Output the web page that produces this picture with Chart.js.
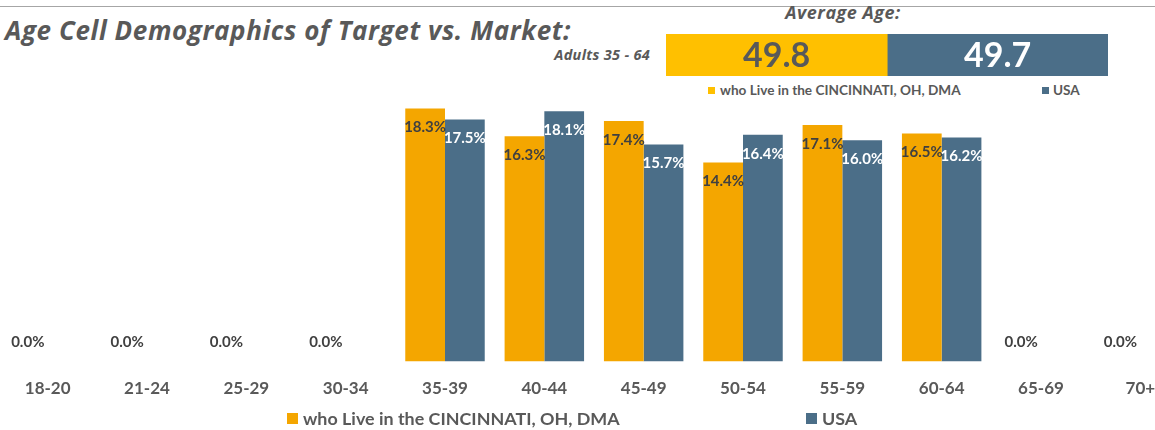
<!DOCTYPE html>
<html>
<head>
<meta charset="utf-8">
<script src="https://cdn.jsdelivr.net/npm/chart.js@4/dist/chart.umd.min.js"></script>
<style>
    body { margin: 0; width: 1155px; height: 430px; overflow: hidden; background: #fff; font-family: Lato, "Open Sans", sans-serif; color: #595959; position: relative; }
    .topLine { position: absolute; left: 0; top: 6px; width: 1155px; height: 1px; background: #a6a6a6; }
    .title { position: absolute; left: 5px; top: 12px; font-family: "Open Sans"; font-size: 26px; font-weight: bold; font-style: italic; white-space: nowrap; letter-spacing: 0.6px; }
    .avgTitle { position: absolute; left: 666px; width: 354px; top: 0px; text-align: center; font-family: "Open Sans"; font-size: 18px; font-weight: bold; font-style: italic; letter-spacing: 0.5px; }
    .adults { position: absolute; left: 450px; width: 200px; top: 45px; text-align: right; font-family: "Open Sans"; font-size: 14.5px; font-weight: bold; font-style: italic; letter-spacing: 0.3px; }
    #avgBox { position: absolute; left: 666px; top: 34px; width: 442px; height: 42px; }
    #mainBox { position: absolute; left: -2px; top: 85px; width: 1192px; height: 331px; }
    .legend { position: absolute; white-space: nowrap; font-weight: bold; }
    .legend span.sw { display: inline-block; vertical-align: middle; }
</style>
</head>
<body>
<div class="topLine"></div>
<div class="title">Age Cell Demographics of Target vs. Market:</div>
<div class="avgTitle">Average Age:</div>
<div class="adults">Adults 35 - 64</div>
<div id="avgBox"><canvas id="avgChart"></canvas></div>
<div id="smallLegend"></div>
<div id="mainBox"><canvas id="ageChart"></canvas></div>
<div id="bottomLegend"></div>

<script>
const ageGroups = ['18-20', '21-24', '25-29', '30-34', '35-39', '40-44', '45-49', '50-54', '55-59', '60-64', '65-69', '70+'];
const cincinnatiPct = [0, 0, 0, 0, 18.3, 16.3, 17.4, 14.4, 17.1, 16.5, 0, 0];
const usaPct = [0, 0, 0, 0, 17.5, 18.1, 15.7, 16.4, 16.0, 16.2, 0, 0];
const seriesNames = ['who Live in the CINCINNATI, OH, DMA', 'USA'];
const averageAge = [49.8, 49.7];

const barColors = ['#f4a600', '#4b6e88'];
const boxColors = ['#ffc000', '#4b6e88'];
const labelColors = ['#404040', '#ffffff'];

// etiquetas de valor dentro de las barras
const barLabels = {
    id: 'barLabels',
    afterDatasetsDraw(chart) {
        const ctx = chart.ctx;
        ctx.save();
        ctx.font = 'bold 15px Lato';
        ctx.textAlign = 'center';
        ctx.textBaseline = 'middle';
        chart.data.datasets.forEach((ds, i) => {
            chart.getDatasetMeta(i).data.forEach((bar, j) => {
                const v = ds.data[j];
                const y = v > 0 ? bar.y + 19 : bar.base - 19;
                ctx.fillStyle = labelColors[i];
                ctx.fillText(v.toFixed(1) + '%', bar.x, y);
            });
        });
        ctx.restore();
    }
};

new Chart(document.getElementById('ageChart'), {
    type: 'bar',
    data: {
        labels: ageGroups,
        datasets: [
            { label: seriesNames[0], data: cincinnatiPct, backgroundColor: barColors[0] },
            { label: seriesNames[1], data: usaPct, backgroundColor: barColors[1] }
        ]
    },
    options: {
        responsive: true,
        maintainAspectRatio: false,
        animation: false,
        layout: { padding: 0 },
        datasets: { bar: { barPercentage: 1, categoryPercentage: 0.8 } },
        plugins: { legend: { display: false }, tooltip: { enabled: false } },
        scales: {
            x: {
                grid: { display: false, drawTicks: false },
                border: { display: false },
                ticks: { color: '#595959', padding: 17, font: { family: 'Lato', weight: 'bold', size: 17 } }
            },
            y: { display: false, min: 0, max: 20 }
        }
    },
    plugins: [barLabels]
});

// caja de edad promedio
const avgLabels = {
    id: 'avgLabels',
    afterDatasetsDraw(chart) {
        const ctx = chart.ctx;
        ctx.save();
        ctx.font = 'bold 34px Lato';
        ctx.textAlign = 'center';
        ctx.textBaseline = 'middle';
        const avgColors = ['#595959', '#ffffff'];
        chart.data.datasets.forEach((ds, i) => {
            const bar = chart.getDatasetMeta(i).data[0];
            ctx.fillStyle = avgColors[i];
            ctx.fillText(ds.data[0].toFixed(1), (bar.x + bar.base) / 2, bar.y + 1);
        });
        ctx.restore();
    }
};

new Chart(document.getElementById('avgChart'), {
    type: 'bar',
    data: {
        labels: ['Average Age'],
        datasets: [
            { label: seriesNames[0], data: [averageAge[0]], backgroundColor: boxColors[0] },
            { label: seriesNames[1], data: [averageAge[1]], backgroundColor: boxColors[1] }
        ]
    },
    options: {
        indexAxis: 'y',
        responsive: true,
        maintainAspectRatio: false,
        animation: false,
        layout: { padding: 0 },
        datasets: { bar: { barPercentage: 1, categoryPercentage: 1 } },
        plugins: { legend: { display: false }, tooltip: { enabled: false } },
        scales: {
            x: { display: false, stacked: true, min: 0, max: averageAge[0] + averageAge[1] },
            y: { display: false, stacked: true }
        }
    },
    plugins: [avgLabels]
});

function buildLegend(el, items) {
    el.innerHTML = '';
    items.forEach(it => {
        const d = document.createElement('div');
        d.className = 'legend';
        d.style.left = it.x + 'px';
        d.style.top = it.y + 'px';
        d.style.fontSize = it.size + 'px';
        d.innerHTML = '<span class="sw" style="width:' + it.sw + 'px;height:' + it.sw + 'px;background:' + it.color +
            ';margin-right:' + it.gap + 'px;margin-top:-3px"></span>' + it.text;
        el.appendChild(d);
    });
}

buildLegend(document.getElementById('smallLegend'), [
    { x: 708, y: 82, size: 13.6, sw: 7, gap: 5, color: boxColors[0], text: seriesNames[0] },
    { x: 1042, y: 82, size: 13.6, sw: 7, gap: 4, color: boxColors[1], text: seriesNames[1] }
]);
buildLegend(document.getElementById('bottomLegend'), [
    { x: 287, y: 407, size: 17.9, sw: 11, gap: 5, color: barColors[0], text: seriesNames[0] },
    { x: 806, y: 407, size: 17.9, sw: 11, gap: 5, color: barColors[1], text: seriesNames[1] }
]);
</script>
</body>
</html>
